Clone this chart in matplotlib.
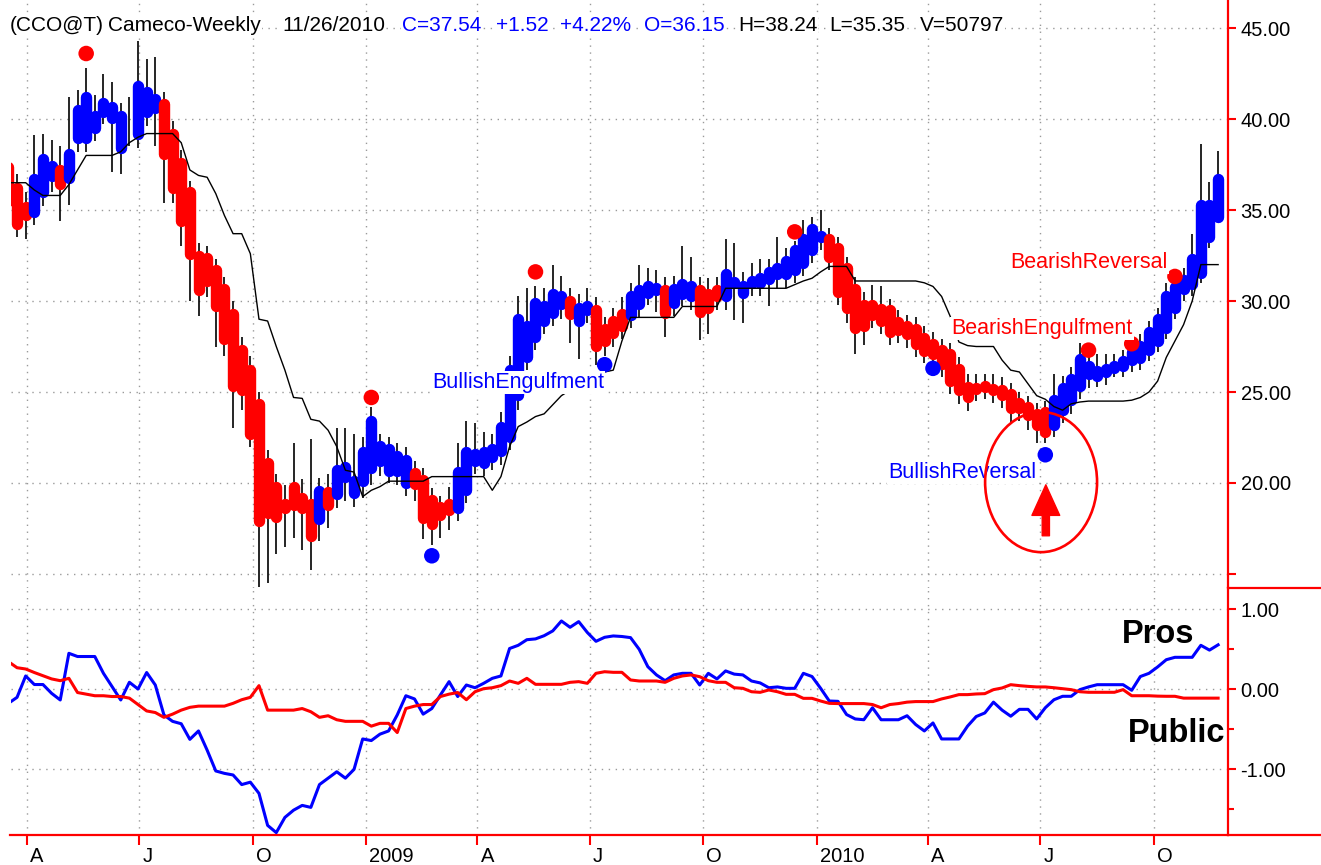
import matplotlib
matplotlib.use("Agg")
import matplotlib.pyplot as plt
import matplotlib.dates as mdates
import matplotlib.transforms as mtransforms
from matplotlib.patches import Ellipse
from matplotlib.lines import Line2D
import numpy as np
import pandas as pd

plt.rcParams['font.family'] = ['Liberation Sans', 'DejaVu Sans']

RED = '#ff0000'
BLUE = '#0000ff'

# weekly bars (Heikin-Ashi style bodies, real high/low wicks)
weeks = pd.date_range("2008-03-17", periods=141, freq="7D")

bar_open = [37.7, 36.5, 35.5, 34.6, 35.7, 36.55, 37.5, 36.45, 38.65, 38.65,
            39.2, 40.1, 39.75, 38.1, 39.0, 38.85, 40.1, 40.3, 41.15, 39.5,
            37.9, 36.3, 32.8, 32.7, 32.0, 31.0, 29.6, 27.6, 26.5, 24.65,
            21.4, 20.07, 19.15, 20.07, 19.5, 19.15, 17.7, 19.8, 19.06, 20.0,
            19.15, 19.8, 20.5, 20.9, 20.35, 20.35, 19.7, 20.85, 20.5, 19.4,
            19.0, 19.15, 18.3, 19.3, 20.9, 20.8, 21.1, 21.45, 22.2, 24.5,
            26.6, 27.7, 28.6, 29.05, 29.5, 30.3, 28.6, 29.2, 29.8, 28.8,
            29.2, 29.6, 28.9, 29.5, 30.15, 30.3, 30.9, 29.6, 30.05, 29.95,
            30.9, 30.7, 30.9, 29.95, 30.7, 30.15, 30.7, 30.7, 30.9, 31.15,
            31.15, 31.4, 31.8, 32.5, 33.2, 33.7, 33.2, 32.1, 31.0, 30.1,
            30.1, 29.9, 29.8, 29.15, 28.95, 28.8, 28.3, 27.95, 27.6, 27.4,
            26.55, 25.6, 25.5, 25.6, 25.5, 25.45, 25.2, 24.7, 24.5, 24.1,
            24.2, 22.9, 23.7, 24.25, 25.0, 25.65, 25.55, 25.8, 26.0, 26.1,
            26.45, 26.55, 27.0, 27.5, 28.2, 29.3, 30.35, 30.6, 31.25, 33.2,
            34.3]
bar_close = [35.2, 33.9, 34.4, 37.0, 38.1, 37.75, 36.1, 38.4, 40.8, 41.5,
             40.5, 41.2, 41.0, 40.5, 39.6, 42.1, 41.8, 41.4, 37.75, 35.9,
             34.1, 32.25, 30.3, 30.8, 29.4, 27.6, 25.0, 24.8, 22.4, 17.6,
             18.05, 17.8, 18.3, 18.5, 18.3, 16.8, 19.9, 18.5, 21.0, 21.2,
             20.4, 22.0, 23.7, 22.35, 22.2, 21.8, 21.6, 19.65, 17.75, 17.45,
             17.95, 18.2, 20.9, 22.0, 21.9, 22.0, 22.2, 23.4, 26.5, 29.3,
             28.95, 30.2, 30.05, 30.7, 30.6, 28.95, 29.95, 30.05, 27.2, 27.5,
             27.95, 28.3, 30.6, 30.9, 31.15, 31.05, 29.05, 30.97, 31.25, 31.15,
             29.1, 29.3, 29.95, 31.8, 31.35, 31.15, 31.4, 31.6, 31.9, 32.15,
             32.5, 33.1, 33.7, 34.27, 33.9, 32.1, 30.2, 29.3, 28.2, 28.3,
             28.9, 28.6, 28.0, 28.1, 27.85, 27.3, 26.95, 26.75, 26.2, 25.3,
             24.8, 24.4, 24.9, 25.0, 24.8, 24.5, 23.8, 23.8, 23.4, 22.9,
             22.5, 24.9, 25.55, 26.0, 27.1, 26.75, 26.45, 26.55, 26.75, 27.0,
             27.5, 27.85, 28.6, 29.3, 30.6, 31.1, 31.45, 32.6, 35.6, 35.6,
             37.0]
bar_high = [38.0, 37.0, 36.0, 39.1, 39.2, 38.85, 38.5, 41.2, 41.6, 42.8,
            41.3, 42.5, 42.05, 40.9, 41.2, 44.3, 43.3, 43.4, 41.5, 39.9,
            38.3, 36.6, 33.2, 33.0, 32.3, 31.3, 30.0, 28.0, 27.0, 25.0,
            21.8, 20.5, 19.9, 22.2, 20.2, 22.4, 20.3, 20.5, 23.0, 23.0,
            22.7, 22.5, 24.2, 22.7, 22.5, 22.2, 22.0, 21.2, 20.8, 19.7,
            19.3, 19.8, 22.2, 23.4, 23.3, 22.8, 22.7, 23.9, 27.0, 30.3,
            30.7, 30.8, 30.7, 32.0, 31.4, 30.7, 30.4, 30.7, 30.2, 29.1,
            29.6, 30.2, 31.0, 32.0, 31.8, 31.7, 31.3, 31.4, 33.0, 32.4,
            31.3, 31.25, 31.3, 33.4, 33.2, 31.6, 32.1, 32.3, 32.3, 33.5,
            32.9, 33.3, 34.45, 34.6, 35.0, 34.0, 33.5, 32.4, 31.3, 30.5,
            30.9, 30.8, 30.1, 29.5, 29.25, 29.1, 28.6, 28.3, 27.9, 27.7,
            26.9, 26.0, 26.0, 26.0, 26.0, 25.8, 25.5, 25.0, 24.8, 24.4,
            24.5, 26.0, 25.9, 26.4, 27.7, 27.0, 27.1, 27.1, 27.1, 27.3,
            27.8, 28.2, 28.9, 29.6, 31.0, 31.4, 31.8, 33.7, 38.6, 36.55,
            38.24]
bar_low = [34.8, 33.5, 33.4, 34.2, 35.2, 36.0, 34.4, 35.3, 38.2, 38.2,
           38.8, 39.7, 37.1, 37.0, 38.5, 38.4, 39.6, 38.5, 35.4, 35.4,
           33.0, 30.0, 29.2, 30.2, 27.5, 27.0, 23.0, 24.0, 22.0, 14.3,
           14.5, 16.1, 16.5, 17.0, 16.3, 15.2, 16.8, 17.5, 18.6, 19.0,
           18.7, 19.2, 19.9, 20.4, 20.0, 19.9, 19.3, 19.0, 16.9, 16.6,
           17.0, 17.4, 17.9, 18.9, 20.5, 20.4, 20.7, 21.0, 21.8, 24.0,
           26.2, 27.3, 28.2, 28.6, 29.0, 27.7, 26.8, 28.8, 26.5, 27.0,
           27.5, 27.9, 28.5, 29.1, 29.8, 29.4, 28.0, 29.2, 29.7, 29.5,
           27.85, 28.2, 29.5, 29.5, 28.95, 28.8, 30.3, 30.3, 29.7, 30.7,
           30.7, 31.0, 31.4, 32.1, 32.8, 31.7, 29.8, 28.8, 27.1, 27.6,
           28.5, 28.2, 27.6, 27.7, 27.4, 26.9, 26.6, 26.6, 25.8, 24.9,
           24.35, 23.95, 24.5, 24.6, 24.4, 24.1, 23.3, 23.4, 22.9, 22.2,
           22.2, 22.5, 23.3, 23.8, 24.6, 25.2, 25.3, 25.4, 25.8, 25.8,
           26.1, 26.2, 26.7, 27.2, 27.9, 29.0, 30.0, 30.3, 31.0, 32.9,
           35.35]

# thin black trend / stop line
stop_line = [36.5, 36.5, 36.5, 36.1, 35.8, 35.8, 35.8, 36.4, 37.2, 38.0,
             38.0, 38.0, 38.0, 38.2, 38.7, 39.0, 39.2, 39.2, 39.2, 39.2,
             38.7, 37.2, 36.9, 36.8, 35.9, 34.7, 33.7, 33.7, 32.6, 29.0,
             28.9, 27.5, 26.2, 24.7, 24.65, 23.5, 23.4, 22.9, 22.0, 20.7,
             20.6, 19.25, 19.6, 19.8, 20.1, 20.1, 20.1, 20.1, 20.1, 20.35,
             20.35, 20.35, 20.35, 20.35, 20.35, 20.35, 19.6, 20.35, 22.0, 23.1,
             23.35, 23.65, 23.8, 24.3, 24.8, 25.1, 25.4, 25.7, 25.9, 26.1,
             26.2, 27.8, 29.1, 29.1, 29.1, 29.1, 29.1, 29.1, 29.7, 29.7,
             29.7, 29.7, 29.7, 30.7, 30.7, 30.7, 30.7, 30.7, 30.7, 30.7,
             30.7, 30.9, 31.1, 31.25, 31.6, 31.9, 31.9, 31.9, 31.1, 31.1,
             31.1, 31.1, 31.1, 31.1, 31.1, 31.1, 31.0, 30.8, 30.25, 29.15,
             27.75, 27.55, 27.5, 27.5, 27.5, 26.75, 26.2, 26.1, 25.45, 24.8,
             24.6, 24.2, 24.0, 24.35, 24.45, 24.5, 24.5, 24.5, 24.5, 24.5,
             24.55, 24.7, 25.0, 25.6, 26.9, 27.8, 28.7, 30.0, 32.0, 32.0,
             32.0]

# lower panel: Pros (blue) and Public (red)
pros = [-0.175, -0.10, 0.167, 0.06, 0.06, -0.05, -0.133, 0.45, 0.41, 0.41,
        0.41, 0.20, 0.033, -0.133, 0.088, 0.004, 0.21, 0.054, -0.32, -0.40,
        -0.43, -0.625, -0.52, -0.76, -1.02, -1.05, -1.07, -1.19, -1.16, -1.30,
        -1.70, -1.79, -1.60, -1.51, -1.45, -1.475, -1.19, -1.11, -1.03, -1.11,
        -1.00, -0.62, -0.64, -0.56, -0.52, -0.32, -0.08, -0.12, -0.31, -0.24,
        -0.07, 0.096, -0.09, 0.054, 0.02, 0.075, 0.1375, 0.167, 0.51, 0.55,
        0.62, 0.63, 0.67, 0.73, 0.854, 0.775, 0.846, 0.71, 0.60, 0.65,
        0.667, 0.66, 0.646, 0.50, 0.283, 0.18, 0.108, 0.18, 0.2, 0.2,
        0.054, 0.2, 0.13, 0.23, 0.19, 0.18, 0.104, 0.08, 0.02, 0.03,
        0.0125, 0.0125, 0.2, 0.16, 0.0125, -0.146, -0.15, -0.315, -0.37, -0.38,
        -0.23, -0.38, -0.38, -0.38, -0.33, -0.44, -0.52, -0.42, -0.62, -0.62,
        -0.62, -0.46, -0.34, -0.295, -0.16, -0.26, -0.336, -0.25, -0.25, -0.37,
        -0.23, -0.13, -0.087, -0.087, -0.004, 0.03, 0.058, 0.058, 0.058, 0.058,
        -0.012, 0.16, 0.2, 0.28, 0.37, 0.40, 0.40, 0.40, 0.55, 0.49,
        0.556]
public = [0.346, 0.27, 0.254, 0.21, 0.17, 0.13, 0.108, 0.1375, -0.04, -0.06,
          -0.08, -0.08, -0.09, -0.09, -0.11, -0.19, -0.27, -0.29, -0.35, -0.31,
          -0.26, -0.225, -0.21, -0.21, -0.21, -0.21, -0.175, -0.13, -0.10, 0.046,
          -0.26, -0.26, -0.26, -0.26, -0.24, -0.28, -0.35, -0.33, -0.38, -0.40,
          -0.40, -0.40, -0.46, -0.425, -0.425, -0.54, -0.24, -0.21, -0.19, -0.19,
          -0.09, -0.06, -0.04, -0.13, -0.03, 0.008, 0.02, 0.046, 0.104, 0.075,
          0.1375, 0.0625, 0.0625, 0.0625, 0.0625, 0.0875, 0.096, 0.075, 0.2, 0.22,
          0.2125, 0.2125, 0.117, 0.104, 0.104, 0.104, 0.0875, 0.1375, 0.167, 0.18,
          0.158, 0.108, 0.0875, 0.0875, 0.02, 0.0125, -0.03, -0.0375, -0.008, -0.03,
          -0.0625, -0.0625, -0.1125, -0.1125, -0.146, -0.175, -0.178, -0.178, -0.178, -0.178,
          -0.19, -0.23, -0.19, -0.178, -0.16, -0.153, -0.153, -0.153, -0.12, -0.095,
          -0.066, -0.066, -0.058, -0.054, -0.004, 0.017, 0.058, 0.046, 0.037, 0.03,
          0.03, 0.02, 0.008, -0.004, -0.03, -0.037, -0.037, -0.037, -0.037, -0.004,
          -0.08, -0.08, -0.08, -0.085, -0.087, -0.087, -0.11, -0.11, -0.11, -0.11,
          -0.11]

# pattern signal dots
signal_idx = [9, 42, 49, 61, 69, 91, 107, 120, 125, 130, 135]
signal_price = [43.6, 24.7, 16.0, 31.6, 26.5, 33.8, 26.3, 21.55, 27.3, 27.65, 31.35]
signal_color = [RED, RED, BLUE, RED, BLUE, RED, BLUE, BLUE, RED, RED, RED]

quarter_ticks = pd.date_range("2008-04-01", "2010-10-01", freq="QS")
quarter_labels = ["A", "J", "O", "2009", "A", "J", "O", "2010", "A", "J", "O"]

price_ticks = [15, 20, 25, 30, 35, 40, 45]
osc_ticks = [-1, 0, 1]

# ---------------------------------------------------------------
W, H = 1321, 865
fig = plt.figure(figsize=(W / 100, H / 100), dpi=100)
left_px, right_px = 10.5, 1228
ax1 = fig.add_axes([left_px / W, 1 - 588 / H, (right_px - left_px) / W, 588 / H])
ax2 = fig.add_axes([left_px / W, 1 - 835 / H, (right_px - left_px) / W, (835 - 588) / H])

price_lim = (14.23, 46.54)
x = mdates.date2num(weeks)
o = np.array(bar_open)
c = np.array(bar_close)
body_col = np.where(c > o, BLUE, RED)

# round-capped bodies: pull the ends in by the cap radius so the drawn
# extent matches the body range
body_lw = 8.2
cap = (body_lw / 2 * 100 / 72) / (588 / (price_lim[1] - price_lim[0]))
top = np.maximum(o, c) - cap
bot = np.minimum(o, c) + cap
mid = (top + bot) / 2
top = np.maximum(top, mid + 0.01)
bot = np.minimum(bot, mid - 0.01)

ax1.vlines(x, bar_low, bar_high, color='black', lw=1.2, zorder=2)
bodies = ax1.vlines(x, bot, top, colors=body_col, lw=body_lw, zorder=3)
bodies.set_capstyle('round')
ax1.plot(x, stop_line, color='black', lw=1.0, zorder=4)
ax1.scatter(x[signal_idx], signal_price, s=125, c=signal_color, edgecolors='none', zorder=5)

ax2.plot(x, pros, color=BLUE, lw=2.2, zorder=3)
ax2.plot(x, public, color=RED, lw=2.2, zorder=3)

x0 = mdates.date2num(pd.Timestamp("2008-03-17"))
qx = mdates.date2num(quarter_ticks)
for ax in (ax1, ax2):
    ax.set_xlim(x0 + 1.7, x0 + 988)
    ax.set_xticks(qx)
    ax.tick_params(axis='x', length=0, labelbottom=False)
    for s in ('top', 'left', 'bottom'):
        ax.spines[s].set_visible(False)
    ax.spines['right'].set_color(RED)
    ax.spines['right'].set_linewidth(1.6)
    ax.yaxis.tick_right()
    ax.grid(True, which='major', color='#9a9a9a', linestyle=(0, (1, 4)), linewidth=1.0)
    ax.set_axisbelow(True)

ax1.set_ylim(*price_lim)
ax1.set_yticks(price_ticks)
ax1.set_yticklabels(['' if t == 15 else f'{t:.2f}' for t in price_ticks])
ax1.tick_params(axis='y', colors=RED, labelcolor='black', direction='out',
                length=6, width=1.5, labelsize=14.5, pad=3)

ax2.set_ylim(-1.82, 1.266)
ax2.set_yticks(osc_ticks)
ax2.set_yticklabels([f'{t:.2f}' for t in osc_ticks])
ax2.set_yticks([-1.5, -0.5, 0.5], minor=True)
ax2.tick_params(axis='y', which='major', colors=RED, labelcolor='black', direction='out',
                length=6, width=1.5, labelsize=14.5, pad=3)
ax2.tick_params(axis='y', which='minor', colors=RED, direction='out', length=4, width=1.5)

# x axis: red baseline, red ticks, labels to the right of each tick
ax2.spines['bottom'].set_visible(True)
ax2.spines['bottom'].set_color(RED)
ax2.spines['bottom'].set_linewidth(1.6)
ax2.tick_params(axis='x', colors=RED, direction='out', length=7, width=1.5)
lab_tr = mtransforms.offset_copy(ax2.get_xaxis_transform(), fig=fig, x=3, y=-12, units='dots')
for q, lab in zip(qx, quarter_labels):
    ax2.text(q, 0, lab, transform=lab_tr, ha='left', va='top', fontsize=14.5, color='black')

# separators to the right of the plot
fig.add_artist(Line2D([right_px / W, 1], [1 - 588 / H] * 2, color=RED, lw=1.6))
fig.add_artist(Line2D([right_px / W, 1], [1 - 835 / H] * 2, color=RED, lw=1.6))

# header
header = [("(CCO@T)", 10, 'black'), ("Cameco-Weekly", 108, 'black'), ("11/26/2010", 282, 'black'),
          ("C=37.54", 402, BLUE), ("+1.52", 496, BLUE), ("+4.22%", 560, BLUE),
          ("O=36.15", 644, BLUE), ("H=38.24", 738, 'black'), ("L=35.35", 829, 'black'),
          ("V=50797", 920, 'black')]
for word, px, col in header:
    fig.text(px / W, 1 - 31 / H, word, ha='left', va='baseline', fontsize=15, color=col,
             bbox=dict(facecolor='white', edgecolor='none', pad=0.5), zorder=10)

# pattern annotations
box = dict(facecolor='white', edgecolor='none', pad=1)
def dnum(s):
    return mdates.date2num(pd.Timestamp(s))

ax1.text(dnum("2009-02-23"), 25.22, "BullishEngulfment", color=BLUE, fontsize=15.5,
         ha='left', va='baseline', bbox=box, zorder=6)
ax1.text(dnum("2010-04-20"), 28.19, "BearishEngulfment", color=RED, fontsize=15.5,
         ha='left', va='baseline', bbox=box, zorder=6)
ax1.text(dnum("2010-06-07"), 31.81, "BearishReversal", color=RED, fontsize=15.5,
         ha='left', va='baseline', bbox=box, zorder=6)
ax1.text(dnum("2010-02-28"), 20.27, "BullishReversal", color=BLUE, fontsize=15.5,
         ha='left', va='baseline', bbox=box, zorder=6)

ax1.add_patch(Ellipse((dnum("2010-07-01 14:00"), 20.05), width=90.7, height=7.7,
                      fill=False, edgecolor=RED, lw=1.9, zorder=7))
ax1.annotate("", xy=(dnum("2010-07-05 10:00"), 19.9), xytext=(dnum("2010-07-05 10:00"), 17.1),
             arrowprops=dict(arrowstyle="simple,head_length=1.1,head_width=1.0,tail_width=0.26",
                             color=RED, shrinkA=0, shrinkB=0, mutation_scale=20), zorder=7)

ax2.text(dnum("2010-09-05"), 0.58, "Pros", fontsize=23.5, fontweight='bold', color='black',
         ha='left', va='baseline', zorder=6)
ax2.text(dnum("2010-09-10"), -0.66, "Public", fontsize=23.5, fontweight='bold', color='black',
         ha='left', va='baseline', zorder=6)

fig.savefig("out.png", dpi=100, facecolor='white')
